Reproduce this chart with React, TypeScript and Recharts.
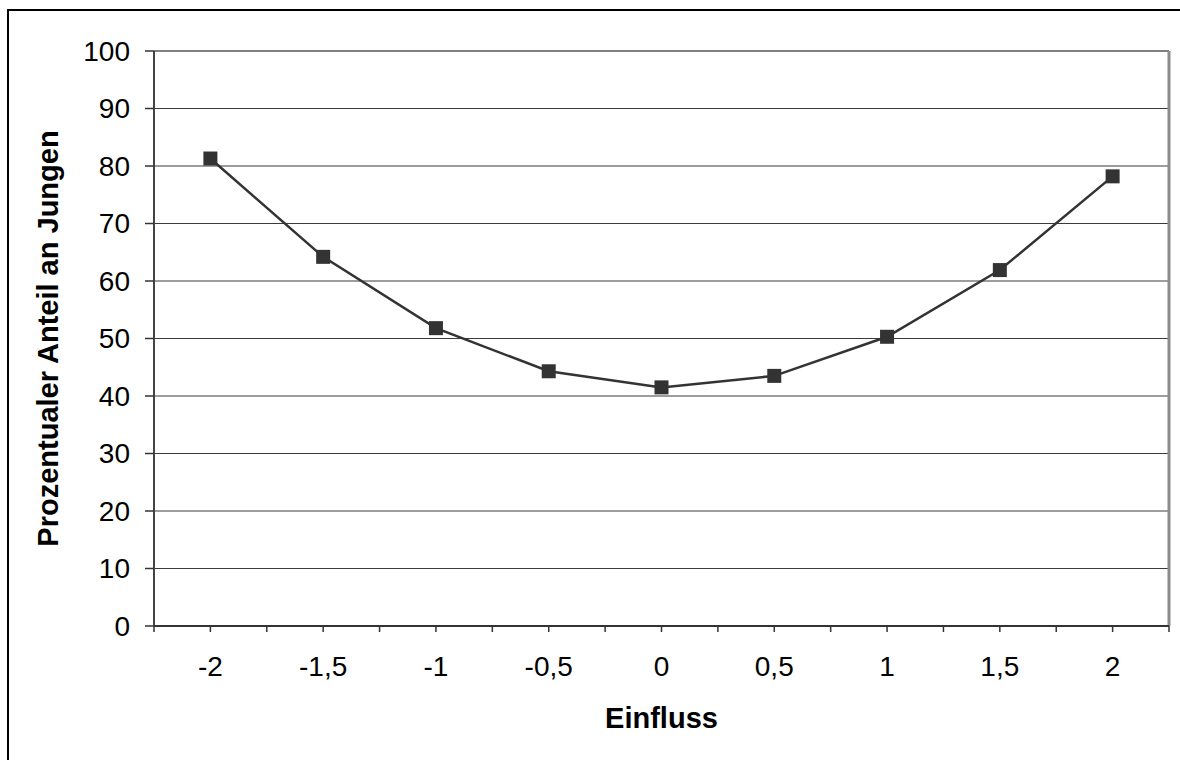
import * as React from 'react';
import {
  LineChart,
  Line,
  XAxis,
  YAxis,
  CartesianGrid,
  ReferenceLine,
  Label,
} from 'recharts';

// values
const einfluss = [-2, -1.5, -1, -0.5, 0, 0.5, 1, 1.5, 2];
const anteil = [81.3, 64.2, 51.8, 44.3, 41.5, 43.5, 50.3, 61.9, 78.2];

const xTicks = [
  -2.25, -2, -1.75, -1.5, -1.25, -1, -0.75, -0.5, -0.25, 0,
  0.25, 0.5, 0.75, 1, 1.25, 1.5, 1.75, 2, 2.25,
];
const xLabeled = [-2, -1.5, -1, -0.5, 0, 0.5, 1, 1.5, 2];
const yTicks = [0, 10, 20, 30, 40, 50, 60, 70, 80, 90, 100];

const xTitle = 'Einfluss';
const yTitle = 'Prozentualer Anteil an Jungen';

const data = einfluss.map((x, i) => ({ x, y: anteil[i] }));

const FONT = '"Liberation Sans", Arial, sans-serif';

const SquareDot = (props: any) => {
  const { cx, cy } = props;
  if (cx == null || cy == null) return null;
  return <rect x={cx - 7} y={cy - 7} width={14} height={14} fill="#333333" />;
};

const formatX = (v: number) =>
  xLabeled.includes(v) ? String(v).replace('.', ',') : '';

export default function App() {
  return (
    <div
      style={{
        position: 'absolute',
        left: 7,
        top: 9,
        width: 1173,
        height: 751,
        borderLeft: '2px solid #000',
        borderTop: '2px solid #000',
        background: '#fff',
        fontFamily: FONT,
      }}
    >
      <LineChart
        width={1171}
        height={749}
        data={data}
        margin={{ top: 40, right: 11, bottom: 0, left: 0 }}
        style={{ fontFamily: FONT }}
      >
        <CartesianGrid vertical={false} stroke="#3a3a3a" strokeWidth={1} />
        <XAxis
          type="number"
          dataKey="x"
          domain={[-2.25, 2.25]}
          ticks={xTicks}
          interval={0}
          tickFormatter={formatX}
          height={134}
          tickSize={6}
          tickMargin={24}
          axisLine={{ stroke: '#333333', strokeWidth: 2 }}
          tickLine={{ stroke: '#333333', strokeWidth: 1.5 }}
          tick={{ fill: '#000', fontSize: 28, fontFamily: FONT }}
        >
          <Label
            content={({ viewBox }: any) => (
              <text
                x={viewBox.x + viewBox.width / 2}
                y={717}
                textAnchor="middle"
                fontFamily={FONT}
                fontWeight="bold"
                fontSize={29}
                fill="#000"
              >
                {xTitle}
              </text>
            )}
          />
        </XAxis>
        <YAxis
          type="number"
          domain={[0, 100]}
          ticks={yTicks}
          interval={0}
          width={145}
          tickSize={9}
          tickMargin={15}
          axisLine={{ stroke: '#444444', strokeWidth: 2 }}
          tickLine={{ stroke: '#333333', strokeWidth: 1.5 }}
          tick={{ fill: '#000', fontSize: 28, fontFamily: FONT }}
        >
          <Label
            content={({ viewBox }: any) => {
              const cx = 39;
              const cy = viewBox.y + viewBox.height / 2;
              return (
                <text
                  x={cx}
                  y={cy}
                  dy={10}
                  transform={`rotate(-90 ${cx} ${cy})`}
                  textAnchor="middle"
                  fontFamily={FONT}
                  fontWeight="bold"
                  fontSize={29}
                  fill="#000"
                >
                  {yTitle}
                </text>
              );
            }}
          />
        </YAxis>
        <ReferenceLine y={100} stroke="#808080" strokeWidth={2} />
        <ReferenceLine x={2.25} stroke="#8c8c8c" strokeWidth={3} />
        <Line
          type="linear"
          dataKey="y"
          stroke="#333333"
          strokeWidth={2.5}
          dot={<SquareDot />}
          activeDot={false}
          isAnimationActive={false}
        />
      </LineChart>
    </div>
  );
}
